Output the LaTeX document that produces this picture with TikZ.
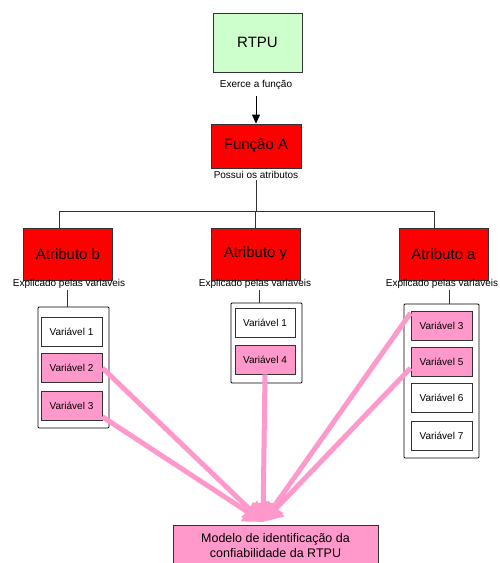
\documentclass[tikz,border=0pt]{standalone}
\usepackage{fontspec}
\setmainfont{Liberation Sans}
\usetikzlibrary{positioning, calc, arrows.meta}
\definecolor{Verde}{HTML}{CCFFCC}
\definecolor{Vermelho}{HTML}{FF0000}
\definecolor{Rosa}{HTML}{FF99CC}
\definecolor{Linha}{HTML}{333333}
\tikzset{
    caixa/.style={rectangle, draw=Linha, line width=0.8pt, text=black, align=center, inner sep=0pt, font=\fontsize{15}{18}\selectfont},
    atributo/.style={caixa, fill=Vermelho, minimum width=89pt, minimum height=52pt},
    varnode/.style={rectangle, draw=Linha, line width=0.8pt, fill=white, minimum width=61pt, minimum height=29pt, inner sep=0pt, font=\fontsize{10}{12}\selectfont},
    rosanode/.style={varnode, fill=Rosa},
    grupo/.style={rectangle, draw=black, line width=0.8pt, rounded corners=1pt, inner sep=0pt},
    rotulo/.style={inner sep=1pt, font=\fontsize{10}{12}\selectfont},
    fio/.style={draw=Linha, line width=0.8pt},
    seta/.style={-{Triangle[length=9pt,width=8pt]}, line width=1pt, color=black},
    setarosa/.style={-{Triangle[length=19pt,width=22pt]}, line width=5pt, color=Rosa},
}
\begin{document}
\begin{tikzpicture}[x=1pt, y=1pt]
    \useasboundingbox (0,0) rectangle (500,-563);
    % Topo
    \node[caixa, fill=Verde, minimum width=89pt, minimum height=59pt] (rtpu) at (257.5,-42.5) {RTPU};
    \node[rotulo] (exerce) at (256,-85) {Exerce a função};
    \node[caixa, fill=Vermelho, minimum width=90pt, minimum height=44pt] (funca) at (256,-146) {Função A};
    \node[rotulo] (possui) at (256,-175) {Possui os atributos};
    \draw[seta] (exerce.south) ++(0,-5) -- (funca.north);

    % Barramento
    \coordinate (busb) at (59,-211);
    \coordinate (busa) at (434,-211);
    \draw[fio] (busb) -- (busa);
    \draw[fio] (possui.south) -- (possui.south |- busb);

    % Atributos
    \node[atributo] (atrb) at (68,-254) {Atributo b};
    \node[atributo] (atry) at (255.5,-254) {Atributo y};
    \node[atributo] (atra) at (443.5,-254) {Atributo a};
    \draw[fio] (busb) -- (busb |- atrb.north);
    \draw[fio] (atry.north) -- (atry.north |- busb);
    \draw[fio] (busa) -- (busa |- atra.north);

    \node[rotulo] (explb) at (69,-284) {Explicado pelas variaveis};
    \node[rotulo] (exply) at (255,-284) {Explicado pelas variaveis};
    \node[rotulo] (expla) at (442,-284) {Explicado pelas variaveis};

    % Grupos de variaveis
    \node[grupo, minimum width=71pt, minimum height=121pt] (gb) at (73.5,-367.5) {};
    \node[grupo, minimum width=71pt, minimum height=80pt] (gy) at (266.5,-343) {};
    \node[grupo, minimum width=75pt, minimum height=154pt] (ga) at (441.5,-381) {};
    \draw[fio] ([xshift=-2pt]explb.south) -- ([xshift=-2pt]explb.south |- gb.north);
    \draw[fio] ([xshift=4pt]exply.south) -- ([xshift=4pt]exply.south |- gy.north);
    \draw[fio] ([xshift=7pt]expla.south) -- ([xshift=7pt]expla.south |- ga.north);

    \node[varnode] (bv1) at (71.5,-331.5) {Variável 1};
    \node[rosanode] (bv2) at (71.5,-368) {Variável 2};
    \node[rosanode] (bv3) at (71.5,-405.5) {Variável 3};

    \node[varnode, minimum width=60pt] (yv1) at (265,-322.5) {Variável 1};
    \node[rosanode, minimum width=60pt] (yv4) at (265,-359.5) {Variável 4};

    \node[rosanode] (av3) at (441.5,-325.5) {Variável 3};
    \node[rosanode] (av5) at (441.5,-361.5) {Variável 5};
    \node[varnode] (av6) at (441.5,-397.5) {Variável 6};
    \node[varnode] (av7) at (441.5,-435.5) {Variável 7};

    % Modelo
    \node[caixa, fill=Rosa, minimum width=205pt, minimum height=42pt, font=\fontsize{12.5}{15}\selectfont] (modelo) at (275.5,-546) {Modelo de identificação da\\confiabilidade da RTPU};
    \coordinate (ponta) at (263,-522);
    \draw[setarosa] (bv2.east) -- (ponta);
    \draw[setarosa] (bv3.-20) -- (ponta);
    \draw[setarosa] (av3.158) -- (ponta);
    \draw[setarosa] (av5.192) -- (ponta);
    \draw[setarosa] (yv4.south) -- (ponta);
\end{tikzpicture}
\end{document}
